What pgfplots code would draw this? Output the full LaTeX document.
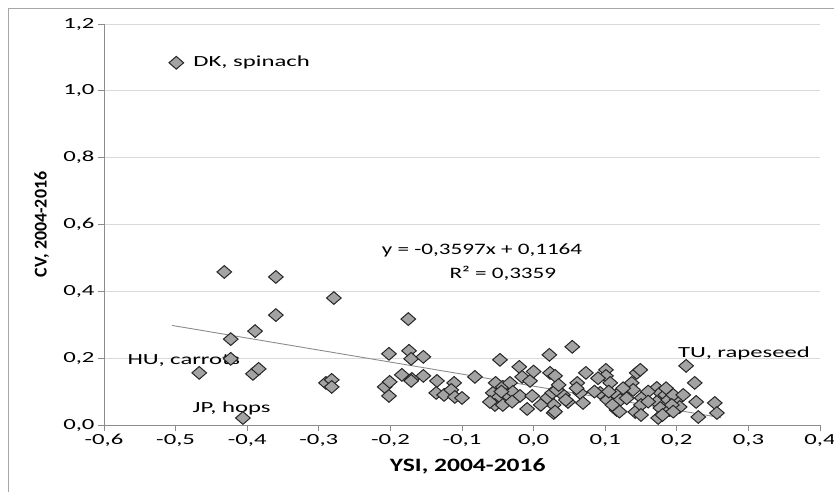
\documentclass[border=0pt]{standalone}
\usepackage{fontspec}
\setmainfont{Carlito}
\usepackage{graphicx}
\usepackage{pgfplots}
\pgfplotsset{compat=1.18}
\newcommand{\W}[1]{\scalebox{1.35}[1]{#1}}
\newcommand{\T}[1]{\scalebox{1.6}[1]{#1}}
\definecolor{mk}{HTML}{A3A3A3}
\definecolor{axgray}{HTML}{8C8C8C}
\definecolor{gridgray}{HTML}{D9D9D9}
\definecolor{framegray}{HTML}{A6A6A6}

\pgfplotstableread{
x y
-0.499 1.084
-0.432 0.458
-0.360 0.443
-0.360 0.329
-0.279 0.380
-0.389 0.281
-0.423 0.257
-0.423 0.198
-0.467 0.156
-0.392 0.153
-0.384 0.168
-0.290 0.126
-0.282 0.135
-0.282 0.114
-0.406 0.021
-0.175 0.317
-0.202 0.213
-0.174 0.222
-0.171 0.198
-0.154 0.204
-0.208 0.114
-0.201 0.129
-0.202 0.087
-0.184 0.150
-0.170 0.138
-0.171 0.132
-0.154 0.147
-0.135 0.132
-0.136 0.096
-0.125 0.090
-0.111 0.126
-0.115 0.105
-0.110 0.084
-0.100 0.081
-0.082 0.144
-0.047 0.195
0.022 0.210
0.054 0.234
-0.020 0.174
-0.016 0.144
-0.005 0.132
0.023 0.156
0.030 0.147
0.073 0.156
-0.053 0.126
-0.043 0.114
-0.033 0.126
-0.057 0.096
-0.050 0.081
-0.037 0.090
-0.029 0.099
-0.019 0.087
-0.002 0.087
-0.009 0.048
0.019 0.081
0.026 0.096
0.028 0.060
0.028 0.036
0.041 0.090
0.048 0.069
0.061 0.126
0.065 0.096
0.069 0.066
-0.054 0.060
-0.043 0.060
-0.061 0.069
0.101 0.165
0.101 0.147
0.107 0.126
0.144 0.156
0.149 0.165
0.137 0.126
0.093 0.096
0.103 0.075
0.116 0.090
0.121 0.075
0.116 0.045
0.142 0.039
0.139 0.105
0.151 0.081
0.172 0.111
0.177 0.096
0.172 0.069
0.184 0.090
0.188 0.075
0.177 0.051
0.174 0.021
0.190 0.045
0.200 0.075
0.204 0.054
0.213 0.177
0.225 0.126
0.195 0.090
0.209 0.090
0.227 0.069
0.253 0.066
0.230 0.024
0.256 0.036
0.193 0.060
0.030 0.040
0.032 0.105
0.035 0.120
0.060 0.110
0.085 0.100
0.090 0.140
0.110 0.060
0.125 0.110
0.130 0.080
0.150 0.060
0.150 0.030
0.160 0.100
0.180 0.030
0.185 0.110
0.195 0.040
-0.045 0.100
-0.030 0.070
0.010 0.060
0.045 0.075
0.000 0.160
0.105 0.100
0.120 0.040
0.160 0.070
}\pts

\begin{document}
\begin{tikzpicture}
\path[use as bounding box] (-104bp,-67bp) rectangle (730bp,425bp);
\draw[framegray, line width=0.8bp] (-96bp,-67bp) -- (-96bp,417bp) -- (730bp,417bp);
\begin{axis}[
    scale only axis,
    width=716bp, height=401bp,
    xmin=-0.6, xmax=0.4, ymin=0, ymax=1.2,
    xtick={-0.6,-0.5,-0.4,-0.3,-0.2,-0.1,0,0.1,0.2,0.3,0.4},
    xticklabels={\T{-0,6},\T{-0,5},\T{-0,4},\T{-0,3},\T{-0,2},\T{-0,1},\T{0,0},\T{0,1},\T{0,2},\T{0,3},\T{0,4}},
    ytick={0,0.2,0.4,0.6,0.8,1.0,1.2},
    yticklabels={\T{0,0},\T{0,2},\T{0,4},\T{0,6},\T{0,8},\T{1,0},\T{1,2}},
    ticklabel style={font=\fontsize{15.5}{18}\selectfont},
    tick align=outside, tick pos=left,
    major tick length=6bp,
    tick style={axgray, line width=0.8bp},
    axis x line*=bottom, axis y line*=left,
    axis line style={axgray, line width=0.8bp, -},
    ymajorgrids, grid style={gridgray, line width=0.8bp},
    xlabel={\W{\bfseries YSI, 2004-2016}},
    ylabel={\bfseries CV, 2004-2016},
    xlabel style={font=\fontsize{19}{22}\selectfont, at={(axis description cs:0.508,-0.102)}, anchor=center},
    ylabel style={font=\fontsize{18}{22}\selectfont, at={(axis description cs:-0.087,0.5)}, anchor=center},
    clip=false,
]
\addplot[axgray, line width=0.9bp] coordinates {(-0.505,0.298) (0.262,0.022)};
\addplot[only marks, mark=square*, mark size=4.5bp,
    mark options={xscale=1.15, rotate=45, fill=mk, draw=black!85, line width=1bp}]
    table[x=x, y=y] {\pts};
\node[anchor=west, font=\fontsize{15.5}{18}\selectfont] at (axis cs:-0.480,1.084) {\T{DK, spinach}};
\node[anchor=west, font=\fontsize{15.5}{18}\selectfont] at (axis cs:-0.572,0.192) {\T{HU, carrots}};
\node[anchor=west, font=\fontsize{15.5}{18}\selectfont] at (axis cs:-0.481,0.051) {\T{JP, hops}};
\node[anchor=west, font=\fontsize{15.5}{18}\selectfont] at (axis cs:0.197,0.213) {\T{TU, rapeseed}};
\node[anchor=center, font=\fontsize{16}{18}\selectfont] at (axis cs:-0.072,0.521) {\scalebox{1.45}[1]{y = -0,3597x + 0,1164}};
\node[anchor=center, font=\fontsize{16}{18}\selectfont] at (axis cs:-0.043,0.455) {\scalebox{1.45}[1]{R² = 0,3359}};
\end{axis}
\end{tikzpicture}
\end{document}
